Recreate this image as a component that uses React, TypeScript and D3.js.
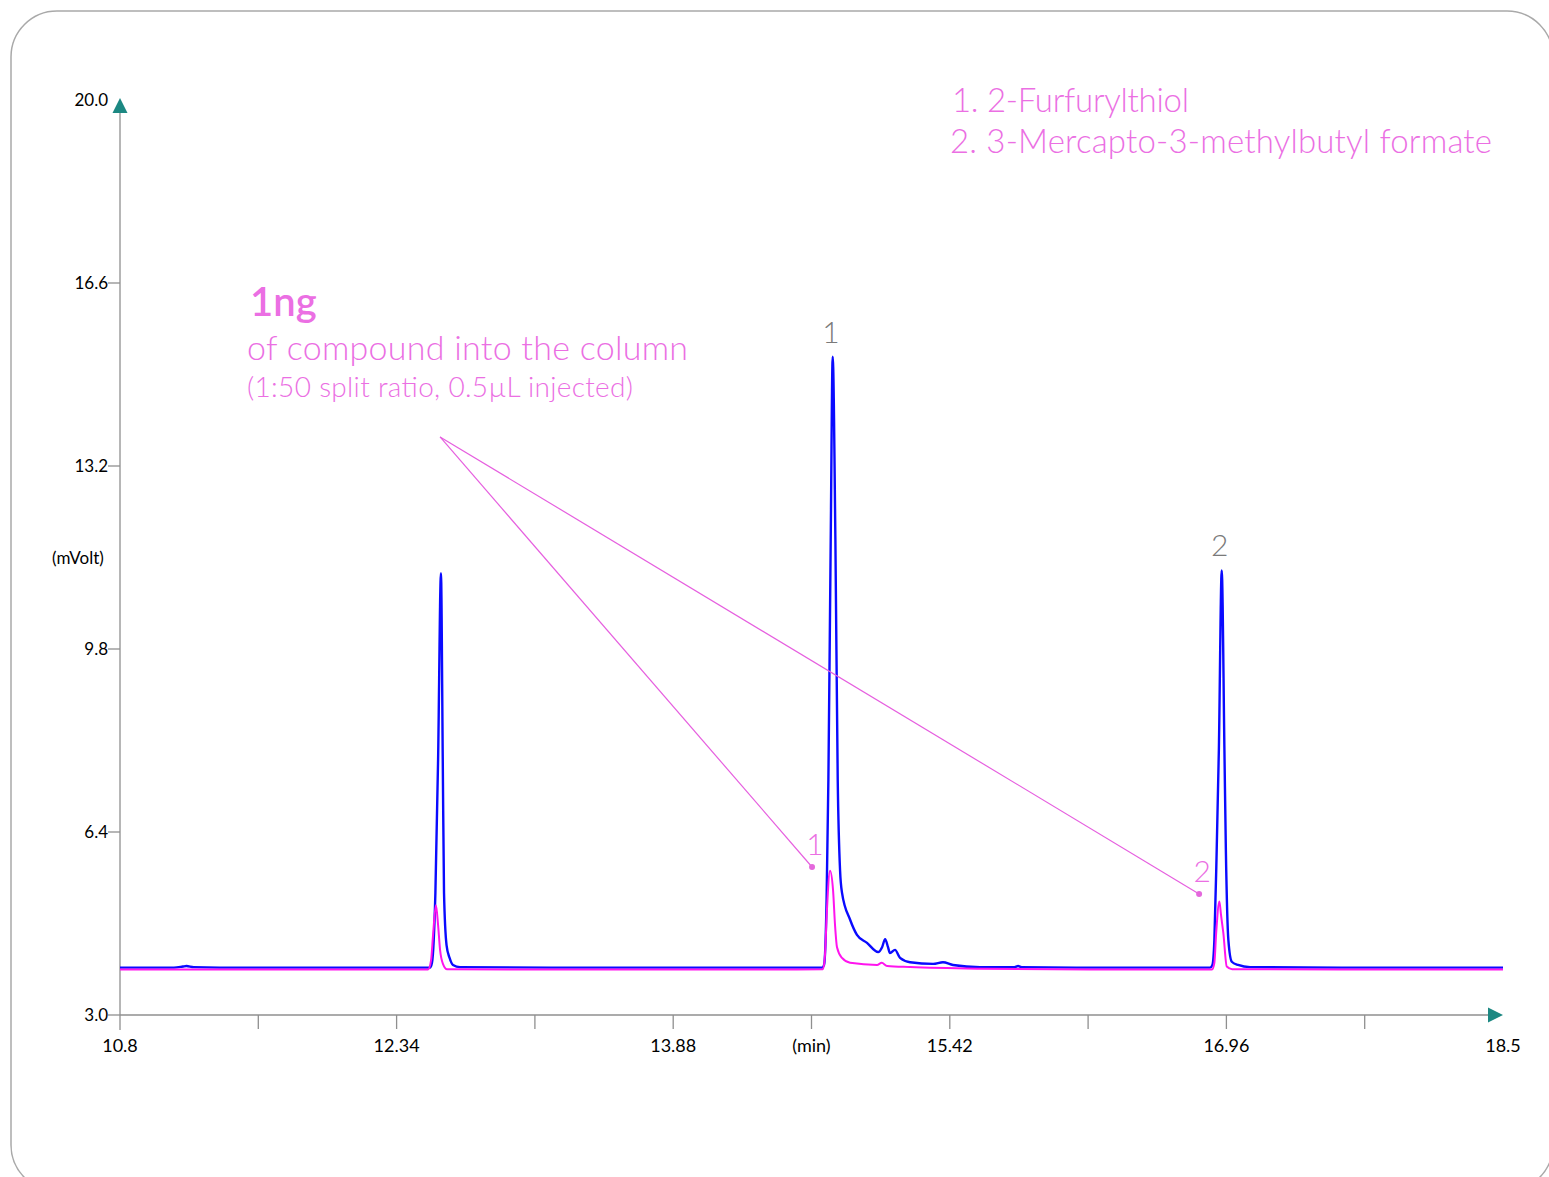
import { useEffect, useRef } from "react";
import * as d3 from "d3";

const W = 1549;
const H = 1177;

// retention time (min) / signal (mVolt)
const blueTrace: [number, number][] = [
  [10.8, 3.88], [11.1, 3.88], [11.15, 3.9], [11.17, 3.91], [11.21, 3.89], [11.5, 3.88],
  [12.0, 3.88], [12.4, 3.88], [12.526, 3.88], [12.537, 3.97], [12.556, 5.27], [12.571, 7.74],
  [12.587, 11.21], [12.597, 7.74], [12.604, 5.27], [12.618, 4.3], [12.635, 4.06], [12.654, 3.93],
  [12.693, 3.89], [13.2, 3.88], [13.88, 3.88], [14.4, 3.88], [14.709, 3.88], [14.72, 3.93],
  [14.734, 5.14], [14.744, 7.37], [14.757, 11.83], [14.768, 15.23], [14.783, 11.83], [14.796, 7.37],
  [14.809, 5.69], [14.82, 5.27], [14.865, 4.77], [14.903, 4.49], [14.959, 4.34], [15.021, 4.17],
  [15.043, 4.26], [15.06, 4.41], [15.076, 4.26], [15.087, 4.15], [15.115, 4.21], [15.143, 4.06],
  [15.199, 3.98], [15.327, 3.95], [15.382, 3.98], [15.438, 3.93], [15.588, 3.89], [15.78, 3.89],
  [15.8, 3.91], [15.82, 3.89], [16.2, 3.88], [16.6, 3.88], [16.869, 3.88], [16.882, 3.93],
  [16.893, 4.39], [16.906, 6.07], [16.918, 7.92], [16.934, 11.26], [16.949, 7.92], [16.957, 6.07],
  [16.971, 4.39], [16.99, 3.99], [17.025, 3.93], [17.092, 3.89], [17.6, 3.88], [18.1, 3.88], [18.5, 3.88],
];

const pinkTrace: [number, number][] = [
  [10.8, 3.845], [11.5, 3.845], [12.0, 3.845], [12.515, 3.845], [12.532, 4.02], [12.543, 4.49],
  [12.559, 5.04], [12.571, 4.67], [12.582, 4.21], [12.598, 3.95], [12.621, 3.85], [13.2, 3.845],
  [13.88, 3.845], [14.4, 3.845], [14.714, 3.85], [14.725, 4.11], [14.736, 4.95], [14.753, 5.68],
  [14.77, 5.32], [14.781, 4.67], [14.792, 4.26], [14.82, 4.06], [14.865, 3.97], [15.015, 3.93],
  [15.041, 3.97], [15.071, 3.91], [15.199, 3.89], [15.588, 3.86], [16.2, 3.845], [16.88, 3.845],
  [16.893, 3.97], [16.903, 4.52], [16.921, 5.11], [16.93, 4.86], [16.943, 4.52], [16.962, 3.9],
  [16.992, 3.85], [17.6, 3.845], [18.5, 3.845],
];

const yTicks = [3.0, 6.4, 9.8, 13.2, 16.6];
const yTop = 20.0;
const xMajor = [10.8, 12.34, 13.88, 15.42, 16.96, 18.5];
const xMinor = [11.57, 13.11, 14.65, 16.19, 17.73];
const minLabelAt = 14.65;

// callout: fan start and the two pointed-at spots
const calloutFrom: [number, number] = [12.582, 13.74];
const calloutTo: { t: number; v: number; label: string }[] = [
  { t: 14.653, v: 5.75, label: "1" },
  { t: 16.808, v: 5.25, label: "2" },
];
const peakLabels = [
  { t: 14.77, v: 15.49, label: "1" },
  { t: 16.934, v: 11.53, label: "2" },
];
const legendLines = ["1. 2-Furfurylthiol", "2. 3-Mercapto-3-methylbutyl formate"];

const PINK_TEXT = "#eb6fe3";
const FONT = "Lato, 'Open Sans', sans-serif";

export default function App() {
  const ref = useRef<SVGSVGElement | null>(null);

  useEffect(() => {
    document.body.style.margin = "0";
    document.body.style.overflow = "hidden";
    const svgEl = ref.current;
    if (!svgEl) return;
    const svg = d3.select(svgEl);
    svg.selectAll("*").remove();

    const x = d3.scaleLinear().domain([10.8, 18.5]).range([120, 1503]);
    const y = d3.scaleLinear().domain([3.0, 20.0]).range([1015, 100]);

    // frame
    svg
      .append("rect")
      .attr("x", 11)
      .attr("y", 11)
      .attr("width", 1542)
      .attr("height", 1180)
      .attr("rx", 46)
      .attr("fill", "#fff")
      .attr("stroke", "#a9a9a9")
      .attr("stroke-width", 1.5);

    const axisColor = "#8f8f8f";
    const g = svg.append("g");

    // y axis
    g.append("line")
      .attr("x1", x(10.8)).attr("x2", x(10.8))
      .attr("y1", y(3.0) + 15).attr("y2", y(yTop) + 8)
      .attr("stroke", axisColor).attr("stroke-width", 1.3);
    g.selectAll(".yt")
      .data(yTicks)
      .join("line")
      .attr("x1", x(10.8) - 12).attr("x2", x(10.8))
      .attr("y1", (d) => y(d)).attr("y2", (d) => y(d))
      .attr("stroke", axisColor).attr("stroke-width", 1.3);
    g.selectAll(".yl")
      .data([...yTicks, yTop])
      .join("text")
      .attr("x", x(10.8) - 12)
      .attr("y", (d) => y(d) + 6)
      .attr("text-anchor", "end")
      .style("font", `17px ${FONT}`)
      .attr("fill", "#000")
      .text((d) => d.toFixed(1));
    g.append("text")
      .attr("x", 78).attr("y", 564)
      .attr("text-anchor", "middle")
      .style("font", `17px ${FONT}`)
      .text("(mVolt)");

    // x axis
    g.append("line")
      .attr("x1", x(10.8)).attr("x2", x(18.5) - 6)
      .attr("y1", y(3.0)).attr("y2", y(3.0))
      .attr("stroke", axisColor).attr("stroke-width", 1.3);
    g.selectAll(".xt")
      .data([...xMajor.slice(1, -1), ...xMinor])
      .join("line")
      .attr("x1", (d) => x(d)).attr("x2", (d) => x(d))
      .attr("y1", y(3.0)).attr("y2", y(3.0) + 14)
      .attr("stroke", axisColor).attr("stroke-width", 1.3);
    g.selectAll(".xl")
      .data(xMajor)
      .join("text")
      .attr("x", (d) => x(d))
      .attr("y", 1052)
      .attr("text-anchor", "middle")
      .style("font", `18px ${FONT}`)
      .text((d) => String(d));
    g.append("text")
      .attr("x", x(minLabelAt)).attr("y", 1052)
      .attr("text-anchor", "middle")
      .style("font", `18px ${FONT}`)
      .text("(min)");

    // arrowheads
    const teal = "#1c8882";
    const ax = x(10.8), ay = y(yTop);
    g.append("path")
      .attr("d", `M${ax},${ay - 2} L${ax + 7.5},${ay + 13} L${ax - 7.5},${ay + 13} Z`)
      .attr("fill", teal);
    const bx = x(18.5), by = y(3.0);
    g.append("path")
      .attr("d", `M${bx},${by} L${bx - 15},${by - 7.5} L${bx - 15},${by + 7.5} Z`)
      .attr("fill", teal);

    // traces
    const line = d3
      .line<[number, number]>()
      .x((d) => x(d[0]))
      .y((d) => y(d[1]))
      .curve(d3.curveMonotoneX);
    g.append("path")
      .attr("d", line(blueTrace) ?? "")
      .attr("fill", "none")
      .attr("stroke", "#0a0aff")
      .attr("stroke-width", 2.4)
      .attr("stroke-linejoin", "round");
    g.append("path")
      .attr("d", line(pinkTrace) ?? "")
      .attr("fill", "none")
      .attr("stroke", "#ff14ee")
      .attr("stroke-width", 2)
      .attr("stroke-linejoin", "round");

    // callout lines
    const ca = g.append("g");
    ca.selectAll("line")
      .data(calloutTo)
      .join("line")
      .attr("x1", x(calloutFrom[0])).attr("y1", y(calloutFrom[1]))
      .attr("x2", (d) => x(d.t)).attr("y2", (d) => y(d.v))
      .attr("stroke", "#e65fdf").attr("stroke-width", 1.2);
    ca.selectAll("circle")
      .data(calloutTo)
      .join("circle")
      .attr("cx", (d) => x(d.t)).attr("cy", (d) => y(d.v))
      .attr("r", 3)
      .attr("fill", "#e468dc");
    ca.selectAll("text")
      .data(calloutTo)
      .join("text")
      .attr("x", (d) => x(d.t) + 3)
      .attr("y", (d) => y(d.v) - 12)
      .attr("text-anchor", "middle")
      .style("font", `300 30px ${FONT}`)
      .attr("fill", PINK_TEXT)
      .text((d) => d.label);

    g.selectAll(".pk")
      .data(peakLabels)
      .join("text")
      .attr("x", (d) => x(d.t) - 2)
      .attr("y", (d) => y(d.v))
      .attr("text-anchor", "middle")
      .style("font", `300 30px ${FONT}`)
      .attr("fill", "#7a7a7a")
      .text((d) => d.label);

    // annotation block
    g.append("text")
      .attr("x", 250).attr("y", 316)
      .style("font", `600 40px ${FONT}`)
      .attr("fill", PINK_TEXT)
      .text("1ng");
    g.append("text")
      .attr("x", 247).attr("y", 360)
      .attr("textLength", 441)
      .style("font", `300 34px ${FONT}`)
      .attr("fill", PINK_TEXT)
      .text("of compound into the column");
    g.append("text")
      .attr("x", 247).attr("y", 397)
      .attr("textLength", 386)
      .style("font", `300 28px ${FONT}`)
      .attr("fill", PINK_TEXT)
      .text("(1:50 split ratio, 0.5µL injected)");

    // legend
    g.selectAll(".lg")
      .data(legendLines)
      .join("text")
      .attr("x", (_d, i) => (i === 0 ? 952 : 950))
      .attr("y", (_d, i) => 112 + i * 41)
      .attr("textLength", (_d, i) => (i === 0 ? 237 : 542))
      .style("font", `300 33px ${FONT}`)
      .attr("fill", PINK_TEXT)
      .text((d) => d);
  }, []);

  return <svg ref={ref} width={W} height={H} style={{ position: "absolute", left: 0, top: 0, display: "block" }} />;
}
